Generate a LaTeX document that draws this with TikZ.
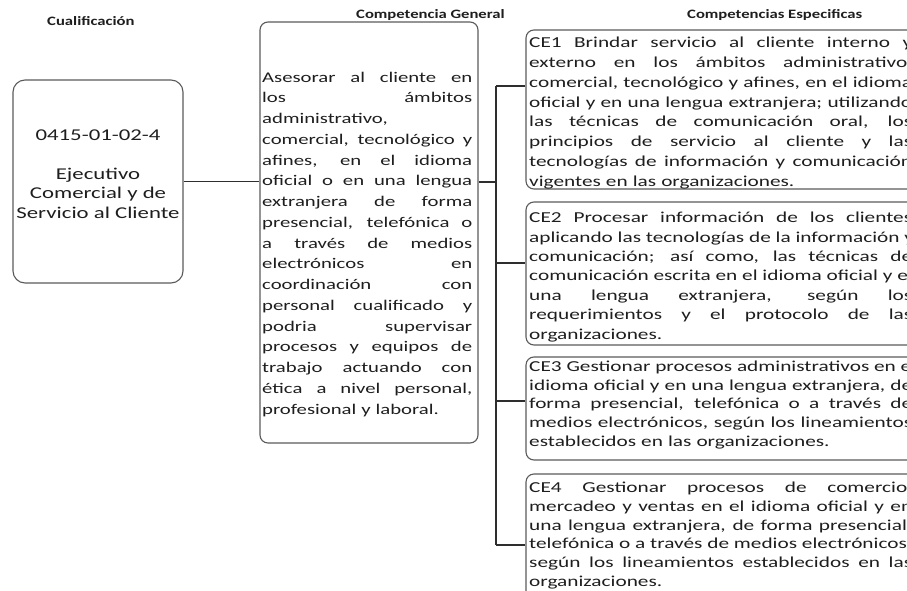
\documentclass[tikz,border=0pt]{standalone}
\usepackage{fontspec}
\setmainfont{Carlito}[FakeStretch=1.3]
\newfontfamily\cefont{Carlito}[FakeStretch=1.4]
\newfontfamily\cualfont{Carlito}[FakeStretch=1.38]
\definecolor{txt}{HTML}{1E1E1E}
\definecolor{boxgray}{HTML}{5A5A5A}
\definecolor{linegray}{HTML}{2E2E2E}
\newcommand\jl[2][383pt]{\leavevmode\hbox to #1{\spaceskip=\fontdimen2\font plus 1fil\relax #2}}
\begin{document}
\begin{tikzpicture}[x=1pt,y=-1pt,
  box/.style={draw=boxgray, line width=1.1pt, rounded corners=8pt, inner sep=0pt},
  conn/.style={draw=linegray, line width=1.2pt},
  body/.style={anchor=north west, inner sep=0pt, align=left, text=txt},
  ttl/.style={anchor=west, inner sep=0pt, font=\bfseries\fontsize{12.8}{15}\selectfont, text=txt}]
\useasboundingbox (0,0) rectangle (907,591);
\clip (0,0) rectangle (907,591);

% titles
\node[ttl] (t1) at (47,21) {Cualificación};
\node[ttl] (t2) at (356,15) {Competencia General};
\node[ttl] (t3) at (687,15) {Competencias Especificas};

% boxes
\node[box, rounded corners=12pt, minimum width=170pt, minimum height=203pt] (cual) at (98,181.5) {};
\node[box, minimum width=218pt, minimum height=421pt] (cg) at (369,232.5) {};
\node[box, minimum width=394pt, minimum height=159pt] (ce1) at (723,109.5) {};
\node[box, minimum width=394pt, minimum height=143pt] (ce2) at (723,273.5) {};
\node[box, minimum width=394pt, minimum height=103pt] (ce3) at (723,408.5) {};
\node[box, minimum width=394pt, minimum height=136pt] (ce4) at (723,542) {};

% connectors
\coordinate (tTop) at (496,86);
\coordinate (tMid) at (496,182);
\coordinate (b2) at (496,263);
\coordinate (b3) at (496,401);
\coordinate (tBot) at (496,545);
\draw[conn] (cual.east) -- (cual.east -| cg.west);
\draw[conn] (tMid -| cg.east) -- (tMid);
\draw[conn] (tTop) -- (tBot);
\draw[conn] (tTop) -- (tTop -| ce1.west);
\draw[conn] (b2) -- (b2 -| ce2.west);
\draw[conn] (b3) -- (b3 -| ce3.west);
\draw[conn] (tBot) -- (tBot -| ce4.west);

% texts
\node[anchor=north, inner sep=0pt, align=center, text=txt, font=\cualfont\fontsize{16.5}{19.5}\selectfont] (cualtxt) at (98,126.4)
 {\strut 0415-01-02-4\\[19.5pt]Ejecutivo\\Comercial y de\\Servicio al Cliente};

\node[body, text width=210pt, font=\cefont\fontsize{14.8}{20.75}\selectfont] (cgtxt) at (262,67.5) {%
\strut\jl[210pt]{Asesorar al cliente en}\\
\jl[210pt]{los ámbitos}\\
administrativo,\\
\jl[210pt]{comercial, tecnológico y}\\
\jl[210pt]{afines, en el idioma}\\
\jl[210pt]{oficial o en una lengua}\\
\jl[210pt]{extranjera de forma}\\
\jl[210pt]{presencial, telefónica o}\\
\jl[210pt]{a través de medios}\\
\jl[210pt]{electrónicos en}\\
\jl[210pt]{coordinación con}\\
\jl[210pt]{personal cualificado y}\\
\jl[210pt]{podria supervisar}\\
\jl[210pt]{procesos y equipos de}\\
\jl[210pt]{trabajo actuando con}\\
\jl[210pt]{ética a nivel personal,}\\
profesional y laboral.};

\node[body, text width=383pt, font=\cefont\fontsize{15.2}{19.8}\selectfont] (ce1txt) at (529,33.6) {%
\strut\jl{CE1 Brindar servicio al cliente interno y}\\
\jl{externo en los ámbitos administrativo,}\\
\jl{comercial, tecnológico y afines, en el idioma}\\
\jl{oficial y en una lengua extranjera; utilizando}\\
\jl{las técnicas de comunicación oral, los}\\
\jl{principios de servicio al cliente y las}\\
\jl{tecnologías de información y comunicación}\\
vigentes en las organizaciones.};

\node[body, text width=383pt, font=\cefont\fontsize{15.2}{19.4}\selectfont] (ce2txt) at (529,208.9) {%
\strut\jl{CE2 Procesar información de los clientes}\\
\jl{aplicando las tecnologías de la información y}\\
\jl{comunicación; así como, las técnicas de}\\
\jl{comunicación escrita en el idioma oficial y en}\\
\jl{una lengua extranjera, según los}\\
\jl{requerimientos y el protocolo de las}\\
organizaciones.};

\node[body, text width=383pt, font=\cefont\fontsize{15.2}{18.6}\selectfont] (ce3txt) at (529,358.5) {%
\strut\jl{CE3 Gestionar procesos administrativos en el}\\
\jl{idioma oficial y en una lengua extranjera, de}\\
\jl{forma presencial, telefónica o a través de}\\
\jl{medios electrónicos, según los lineamientos}\\
establecidos en las organizaciones.};

\node[body, text width=383pt, font=\cefont\fontsize{15.2}{18.7}\selectfont] (ce4txt) at (529,479.4) {%
\strut\jl{CE4 Gestionar procesos de comercio,}\\
\jl{mercadeo y ventas en el idioma oficial y en}\\
\jl{una lengua extranjera, de forma presencial,}\\
\jl{telefónica o a través de medios electrónicos,}\\
\jl{según los lineamientos establecidos en las}\\
organizaciones.};
\end{tikzpicture}
\end{document}
